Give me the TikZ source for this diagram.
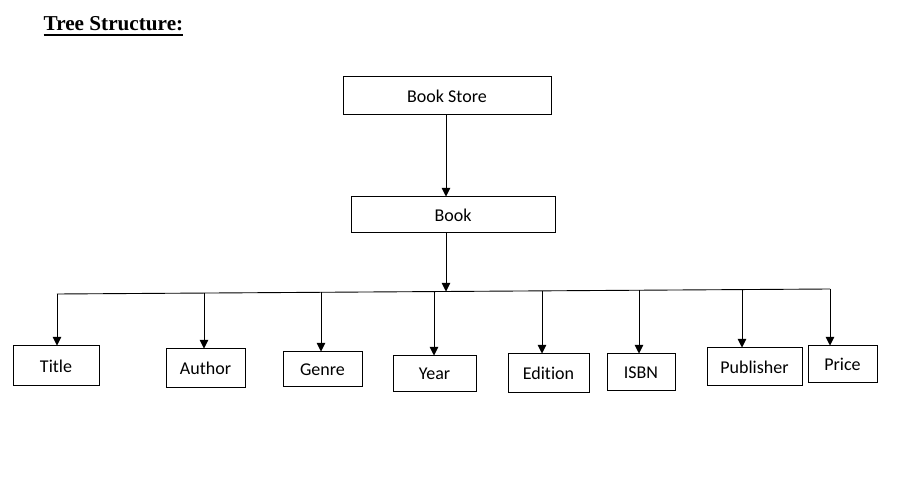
\documentclass[tikz,border=0pt]{standalone}
\usepackage{fontspec}
\setmainfont{Liberation Serif}
\newfontfamily\boxfont[Ligatures={NoCommon,NoRare}]{Carlito}
\usetikzlibrary{arrows.meta}
\begin{document}
\begin{tikzpicture}[x=1pt,y=-1pt,
  box/.style={draw,line width=1pt,rectangle,inner sep=0pt,
    font=\boxfont\fontsize{18}{20}\selectfont},
  link/.style={line width=0.9pt},
  arr/.style={link,-{Triangle[width=8.5pt,length=8.5pt]}}]
\useasboundingbox (0,0) rectangle (897,502);

% heading
\node[anchor=base west,inner sep=0pt,font=\bfseries\fontsize{21.2}{24}\selectfont] (head) at (43.5,31) {Tree Structure:};
\draw[line width=1.6pt] ([yshift=-4pt]head.base west) -- ([yshift=-4pt]head.base east);

% upper levels
\node[box,minimum width=208pt,minimum height=38pt] (store) at (447,96) {Book Store};
\node[box,minimum width=204pt,minimum height=36pt] (book) at (453,215) {Book};

% leaves
\node[box,minimum width=86pt,minimum height=40pt] (title) at (56,366) {Title};
\node[box,minimum width=79pt,minimum height=39pt] (author) at (205.5,368.5) {Author};
\node[box,minimum width=79pt,minimum height=35pt] (genre) at (322.5,369.5) {Genre};
\node[box,minimum width=83pt,minimum height=36pt] (year) at (434.5,374) {Year};
\node[box,minimum width=81pt,minimum height=39pt] (edition) at (548.5,373.5) {Edition};
\node[box,minimum width=68pt,minimum height=37pt] (isbn) at (641,372.5) {ISBN};
\node[box,minimum width=95pt,minimum height=38pt] (publisher) at (754.5,367) {Publisher};
\node[box,minimum width=69pt,minimum height=37pt] (price) at (842.5,364.5) {Price};

% branch bar
\coordinate (barL) at (57,294);
\coordinate (barR) at (830,289);
\coordinate (barM) at (446,291.5);
\coordinate (tAuthor) at (204,292.9);
\coordinate (tGenre) at (321,292.3);
\coordinate (tYear) at (434,291.6);
\coordinate (tEdition) at (542,290.9);
\coordinate (tIsbn) at (639,290.2);
\coordinate (tPublisher) at (742,289.6);

\draw[link] (barL) -- (barR);

% connectors
\draw[arr] (store.south -| barM) -- (book.north -| barM);
\draw[arr] (book.south -| barM) -- (barM);
\draw[arr] (barL) -- (barL |- title.north);
\draw[arr] (tAuthor) -- (tAuthor |- author.north);
\draw[arr] (tGenre) -- (tGenre |- genre.north);
\draw[arr] (tYear) -- (tYear |- year.north);
\draw[arr] (tEdition) -- (tEdition |- edition.north);
\draw[arr] (tIsbn) -- (tIsbn |- isbn.north);
\draw[arr] (tPublisher) -- (tPublisher |- publisher.north);
\draw[arr] (barR) -- (barR |- price.north);
\end{tikzpicture}
\end{document}
